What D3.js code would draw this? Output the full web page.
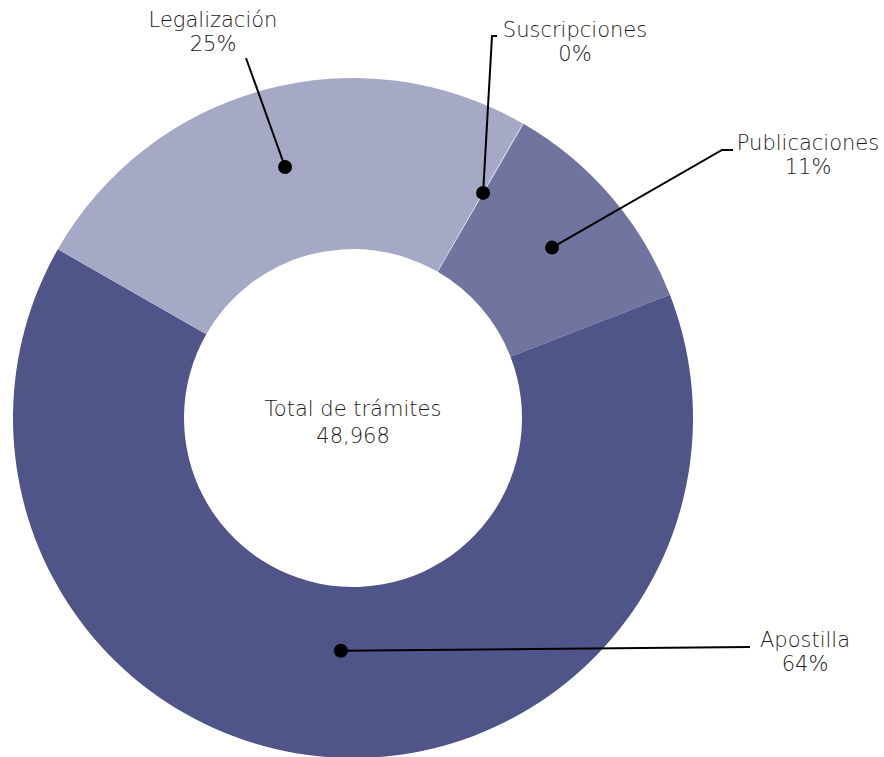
<!DOCTYPE html>
<html>
<head>
<meta charset="utf-8">
<script src="https://cdn.jsdelivr.net/npm/d3@7"></script>
<style>
  body { margin: 0; background: #fff; }
  svg text { font-family: "DejaVu Sans", sans-serif; font-weight: 200; fill: #1a1a1a; font-size: 21px; }
</style>
</head>
<body>
<svg id="chart" width="884" height="757"></svg>
<script>
// data
var categories = ["Publicaciones", "Apostilla", "Legalización", "Suscripciones"];
var values = [5258, 31420, 12270, 20];
var percentLabels = ["11%", "64%", "25%", "0%"];
var totalLabel = "Total de trámites";
var totalValue = "48,968";

var colors = ["#71749f", "#4f5489", "#a6a9c5", "#c9cbdd"];

var width = 884, height = 757;
var cx = 353, cy = 418;
var outerR = 340, innerR = 169;
var startAngle = 30.1 * Math.PI / 180;

// label layout: dot radius, text position, elbow
var labelLayout = {
    "Publicaciones": { r: 262, tx: 808, ty: 143, elbow: [722, 150], end: [733, 150] },
    "Apostilla":     { r: 233, tx: 805, ty: 640, elbow: null, end: [750, 647] },
    "Legalización":  { r: 260, tx: 213, ty: 20, elbow: null, end: [246, 58] },
    "Suscripciones": { r: 260, tx: 575, ty: 30, elbow: [492, 36], end: [497, 36] }
};

var svg = d3.select("#chart");
var g = svg.append("g").attr("transform", "translate(" + cx + "," + cy + ")");

var pie = d3.pie()
    .sort(null)
    .startAngle(startAngle)
    .endAngle(startAngle + 2 * Math.PI)
    .value(function(d) { return d; });

var arc = d3.arc().innerRadius(innerR).outerRadius(outerR);
var arcs = pie(values);

g.selectAll("path.slice")
    .data(arcs)
    .enter()
    .append("path")
        .attr("class", "slice")
        .attr("d", arc)
        .attr("fill", function(d, i) { return colors[i]; });

// center text
g.append("text")
    .attr("text-anchor", "middle")
    .attr("y", -2)
    .text(totalLabel);
g.append("text")
    .attr("text-anchor", "middle")
    .attr("y", 25)
    .text(totalValue);

// leader lines + labels
arcs.forEach(function(d, i) {
    var lay = labelLayout[categories[i]];
    var mid = (d.startAngle + d.endAngle) / 2 - (categories[i] == "Apostilla" ? 0.022 : 0);
    var px = cx + lay.r * Math.sin(mid);
    var py = cy - lay.r * Math.cos(mid);

    var pts = [[px, py]];
    if (lay.elbow) pts.push(lay.elbow);
    pts.push(lay.end);

    svg.append("path")
        .attr("d", d3.line()(pts))
        .attr("fill", "none")
        .attr("stroke", "#000")
        .attr("stroke-width", 2);

    svg.append("circle")
        .attr("cx", px)
        .attr("cy", py)
        .attr("r", 7)
        .attr("fill", "#000");

    var t = svg.append("text")
        .attr("text-anchor", "middle")
        .attr("x", lay.tx)
        .attr("y", lay.ty + 7);
    t.append("tspan").attr("x", lay.tx).text(categories[i]);
    t.append("tspan").attr("x", lay.tx).attr("dy", 24).text(percentLabels[i]);
});
</script>
</body>
</html>
